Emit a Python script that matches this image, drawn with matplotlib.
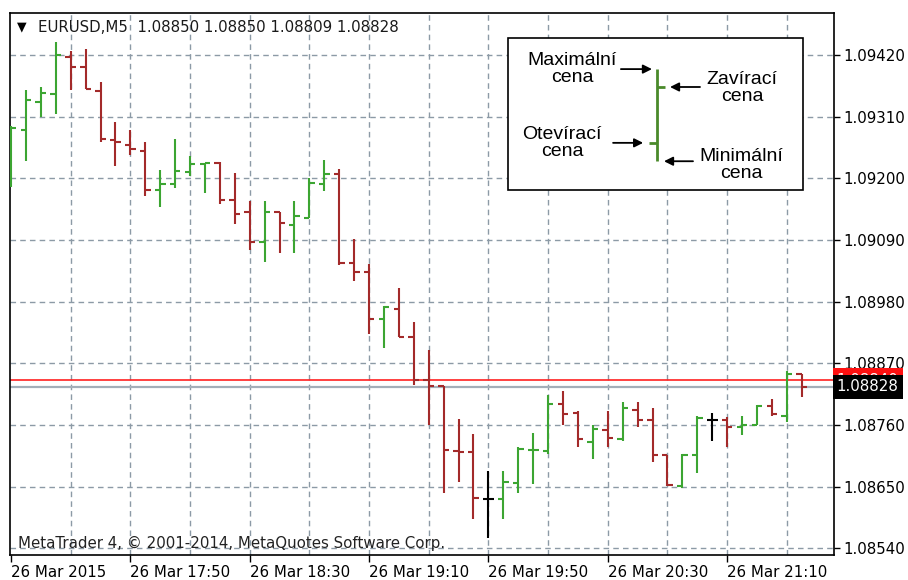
import matplotlib.pyplot as plt
from matplotlib.patches import Rectangle

# EURUSD M5 bars, 26 Mar 2015 17:10 .. 21:35
opens = [1.09190, 1.09286, 1.09337, 1.09350, 1.09417, 1.09399, 1.09356, 1.09268, 1.09259, 1.09249,
         1.09179, 1.09190, 1.09212, 1.09225, 1.09228, 1.09162, 1.09140, 1.09086, 1.09140, 1.09117,
         1.09129, 1.09190, 1.09207, 1.09049, 1.09032, 1.08949, 1.08966, 1.08916, 1.08840, 1.08829,
         1.08713, 1.08712, 1.08627, 1.08627, 1.08656, 1.08715, 1.08714, 1.08797, 1.08782, 1.08730,
         1.08751, 1.08734, 1.08787, 1.08769, 1.08706, 1.08651, 1.08706, 1.08768, 1.08768, 1.08756,
         1.08760, 1.08794, 1.08776, 1.08850]
highs = [1.09293, 1.09357, 1.09363, 1.09444, 1.09428, 1.09430, 1.09371, 1.09301, 1.09287, 1.09264,
         1.09214, 1.09271, 1.09240, 1.09227, 1.09230, 1.09210, 1.09160, 1.09160, 1.09140, 1.09160,
         1.09200, 1.09233, 1.09216, 1.09091, 1.09047, 1.08972, 1.09004, 1.08944, 1.08894, 1.08829,
         1.08770, 1.08744, 1.08677, 1.08677, 1.08720, 1.08746, 1.08813, 1.08821, 1.08784, 1.08760,
         1.08784, 1.08800, 1.08801, 1.08790, 1.08706, 1.08709, 1.08776, 1.08781, 1.08775, 1.08776,
         1.08796, 1.08807, 1.08857, 1.08850]
lows = [1.09185, 1.09231, 1.09309, 1.09315, 1.09358, 1.09359, 1.09265, 1.09222, 1.09242, 1.09168,
        1.09148, 1.09182, 1.09204, 1.09173, 1.09155, 1.09118, 1.09072, 1.09051, 1.09067, 1.09067,
        1.09129, 1.09178, 1.09045, 1.09016, 1.08922, 1.08898, 1.08916, 1.08831, 1.08759, 1.08638,
        1.08658, 1.08592, 1.08558, 1.08592, 1.08638, 1.08655, 1.08709, 1.08760, 1.08721, 1.08699,
        1.08721, 1.08732, 1.08756, 1.08694, 1.08651, 1.08647, 1.08675, 1.08732, 1.08721, 1.08742,
        1.08760, 1.08776, 1.08766, 1.08809]
closes = [1.09290, 1.09339, 1.09353, 1.09420, 1.09399, 1.09359, 1.09270, 1.09264, 1.09253, 1.09179,
          1.09190, 1.09213, 1.09226, 1.09227, 1.09162, 1.09136, 1.09086, 1.09140, 1.09120, 1.09133,
          1.09192, 1.09207, 1.09049, 1.09032, 1.08949, 1.08970, 1.08916, 1.08840, 1.08829, 1.08716,
          1.08712, 1.08629, 1.08627, 1.08659, 1.08717, 1.08716, 1.08797, 1.08779, 1.08734, 1.08752,
          1.08736, 1.08790, 1.08769, 1.08706, 1.08653, 1.08706, 1.08772, 1.08768, 1.08757, 1.08760,
          1.08794, 1.08779, 1.08851, 1.08828]

price_ticks = [1.08540, 1.08650, 1.08760, 1.08870, 1.08980, 1.09090, 1.09200, 1.09310, 1.09420]
time_tick_bars = [0, 8, 16, 24, 32, 40, 48]
time_labels = ['26 Mar 2015', '26 Mar 17:50', '26 Mar 18:30', '26 Mar 19:10',
               '26 Mar 19:50', '26 Mar 20:30', '26 Mar 21:10']
ask_price = 1.08840
bid_price = 1.08828
title = 'EURUSD,M5  1.08850 1.08850 1.08809 1.08828'

UP = '#3ca532'
DOWN = '#a32a2a'
GRID = '#8c9aa6'

plt.rcParams['font.family'] = ['DejaVu Sans']
fig = plt.figure(figsize=(9.08, 5.80), dpi=100)
ax = fig.add_axes([9.5 / 908, 1 - 555 / 580, 824 / 908, 542.3 / 580])

tick = 0.36
for i in range(len(opens)):
    o, h, l, c = opens[i], highs[i], lows[i], closes[i]
    col = UP if c > o else (DOWN if c < o else 'black')
    ax.vlines(i, l, h, color=col, lw=1.5, zorder=3)
    ax.hlines(o, i - tick, i, color=col, lw=1.5, zorder=3)
    ax.hlines(c, i, i + tick, color=col, lw=1.5, zorder=3)

ax.set_xlim(-0.1, 55.13)
ax.set_ylim(1.085279, 1.094955)

# grid
for x in range(4, 56, 4):
    ax.axvline(x, color=GRID, lw=1.0, ls=(0, (4, 3)), zorder=1)
for y in price_ticks:
    ax.axhline(y, color=GRID, lw=1.0, ls=(0, (4, 3)), zorder=1)

ax.axhline(bid_price, color='#a4aeb8', lw=1.6, zorder=2)
ax.axhline(ask_price, color='#ff2020', lw=1.2, zorder=2)

ax.yaxis.tick_right()
ax.set_yticks(price_ticks)
ax.set_yticklabels(['%.5f' % p for p in price_ticks])
ax.set_xticks(time_tick_bars)
ax.set_xticklabels(time_labels, ha='left')
ax.tick_params(axis='y', length=4, width=1, pad=3, labelsize=10.8, colors='black')
ax.tick_params(axis='x', length=5, width=1, pad=2, labelsize=10.8, colors='black')
for s in ax.spines.values():
    s.set_color('black')
    s.set_linewidth(1.2)

# price labels on the right (ask label sits under the bid label, as in the terminal)
tr = ax.get_yaxis_transform()
ax.text(1.004, ask_price, '1.08840', transform=tr, va='center', ha='left', fontsize=10.8,
        color='white', clip_on=False, zorder=5,
        bbox=dict(facecolor='#ff1010', edgecolor='none', pad=3))
ax.text(1.004, bid_price, '1.08828', transform=tr, va='center', ha='left', fontsize=10.8,
        color='white', clip_on=False, zorder=6,
        bbox=dict(facecolor='black', edgecolor='none', pad=3))

# title and watermark
fig.text(22 / 908, 1 - 27 / 580, '\u25bc', fontsize=9, ha='center', va='center', color='black')
fig.text(38 / 908, 1 - 27 / 580, title, fontsize=10.8, ha='left', va='center', color='#1a1a1a')
fig.text(18 / 908, 1 - 543 / 580, 'MetaTrader 4, \u00a9 2001-2014, MetaQuotes Software Corp.',
         fontsize=10.8, ha='left', va='center', color='#222222')

# explanation box
ax.add_patch(Rectangle((0.605, 0.673), 0.358, 0.280, transform=ax.transAxes,
                       facecolor='white', edgecolor='black', lw=1.2, zorder=7))
bx = 0.7858
ax.plot([bx, bx], [0.7261, 0.896], transform=ax.transAxes, color='#4a8a2a', lw=2, zorder=8,
        solid_capstyle='butt')
ax.plot([bx, bx + 0.0095], [0.863, 0.863], transform=ax.transAxes, color='#4a8a2a', lw=2, zorder=8,
        solid_capstyle='butt')
ax.plot([bx - 0.0095, bx], [0.760, 0.760], transform=ax.transAxes, color='#4a8a2a', lw=2, zorder=8,
        solid_capstyle='butt')

lab_font = ['Liberation Sans', 'DejaVu Sans']
labels = [
    ('Maxim\u00e1ln\u00ed\ncena', 0.6826, 0.896, (0.742, 0.896), (0.7797, 0.896)),
    ('Zav\u00edrac\u00ed\ncena', 0.889, 0.862, (0.838, 0.863), (0.8016, 0.863)),
    ('Otev\u00edrac\u00ed\ncena', 0.6705, 0.760, (0.7325, 0.760), (0.769, 0.760)),
    ('Minim\u00e1ln\u00ed\ncena', 0.8877, 0.7195, (0.8295, 0.7261), (0.7943, 0.7261)),
]
for txt, tx, ty, start, end in labels:
    ax.text(tx, ty, txt, transform=ax.transAxes, ha='center', va='center', fontsize=14,
            family=lab_font, linespacing=1.0, zorder=9)
    ax.annotate('', xy=end, xytext=start, xycoords='axes fraction', textcoords='axes fraction',
                arrowprops=dict(arrowstyle='-|>', color='black', lw=1.3, mutation_scale=13,
                                shrinkA=0, shrinkB=0), zorder=9)

fig.savefig('out.png', dpi=100)
